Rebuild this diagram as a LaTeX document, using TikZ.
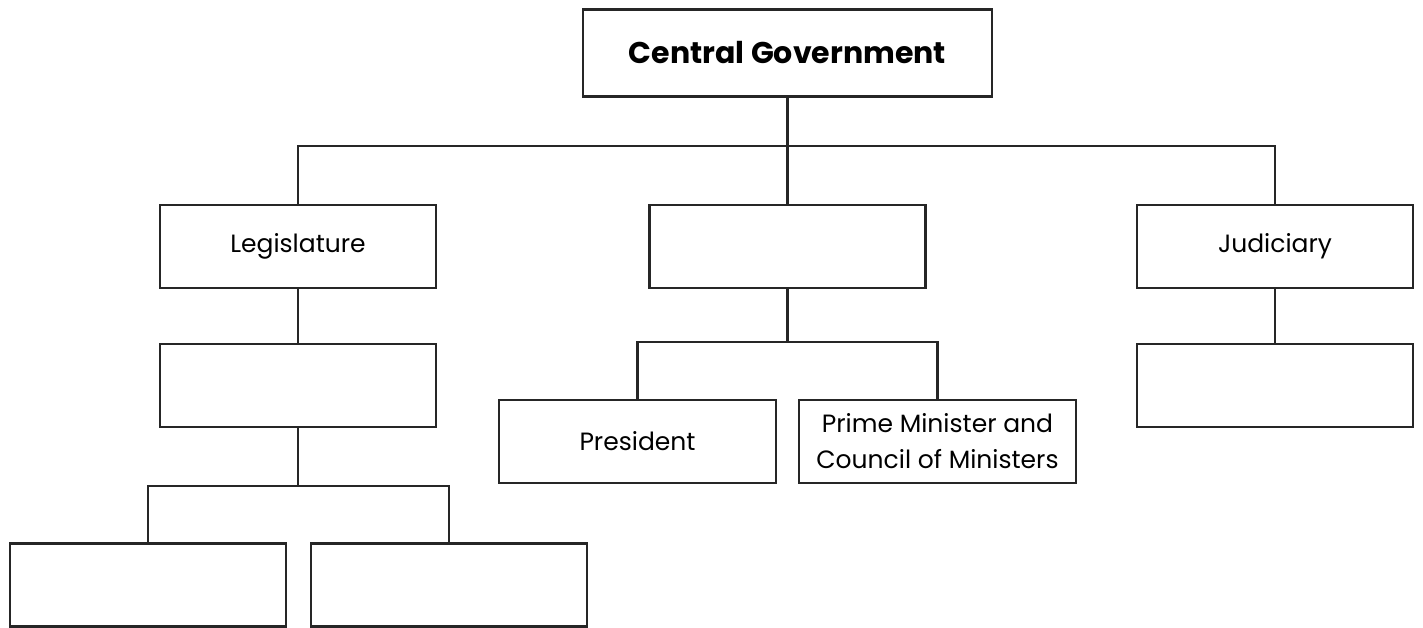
\documentclass[tikz,border=0pt]{standalone}
\usepackage{fontspec}
\setmainfont{Poppins}
\begin{document}
\begin{tikzpicture}[x=1pt,y=-1pt,
  box/.style={draw=black!85, line width=2.8pt, rectangle, inner sep=0pt, minimum width=276pt, minimum height=83pt, align=center, font=\fontsize{25}{34}\selectfont},
  link/.style={draw=black!85, line width=2.8pt}]
\useasboundingbox[fill=white] (0,0) rectangle (1423,628);
\node[box, minimum width=409pt, minimum height=87pt, font=\bfseries\fontsize{30}{36}\selectfont] (cg) at (787.5,53) {Central Government};
\node[box] (leg) at (298,246.5) {Legislature};
\node[box] (exe) at (787.5,246.5) {};
\node[box] (jud) at (1275,246.5) {Judiciary};
\node[box] (leg2) at (298,385.5) {};
\node[box] (jud2) at (1275,385.5) {};
\node[box, minimum width=277pt] (pres) at (637.5,441.5) {President};
\node[box, minimum width=277pt, font=\fontsize{25}{36}\selectfont] (pm) at (937.5,441.5) {Prime Minister and\\Council of Ministers};
\node[box] (lb1) at (148,585) {};
\node[box] (lb2) at (449,585) {};
\coordinate (j1) at (787.5,146);
\coordinate (j2) at (787.5,342);
\coordinate (j3) at (298,486);
\draw[link] (cg.south) -- (exe.north);
\draw[link] (leg.north) |- (j1) -| (jud.north);
\draw[link] (exe.south) -- (j2);
\draw[link] (pres.north) |- (j2) -| (pm.north);
\draw[link] (leg.south) -- (leg2.north);
\draw[link] (leg2.south) -- (j3);
\draw[link] (lb1.north) |- (j3) -| (lb2.north);
\draw[link] (jud.south) -- (jud2.north);
\end{tikzpicture}
\end{document}
